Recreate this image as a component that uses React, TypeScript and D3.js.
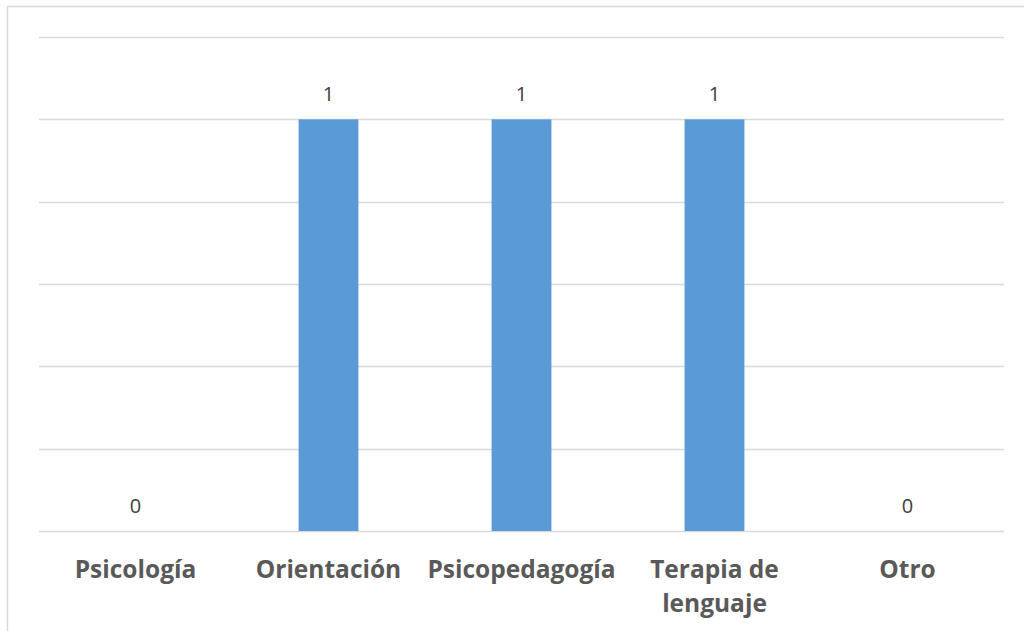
import React from "react";
import * as d3 from "d3";

const categories: string[][] = [
  ["Psicología"],
  ["Orientación"],
  ["Psicopedagogía"],
  ["Terapia de", "lenguaje"],
  ["Otro"],
];
const values: number[] = [0, 1, 1, 1, 0];
const gridTicks: number[] = [0, 0.2, 0.4, 0.6, 0.8, 1, 1.2];

const W = 1024;
const H = 631;

export default function App() {
  const x = d3
    .scaleBand<number>()
    .domain(values.map((_, i) => i))
    .range([39, 1004])
    .paddingInner(0.69)
    .paddingOuter(0.345);
  const y = d3.scaleLinear().domain([0, 1.2]).range([531, 37]);
  const font = "'Open Sans', 'Liberation Sans', sans-serif";
  return (
    <svg
      width={W}
      height={H}
      style={{ position: "absolute", left: 0, top: 0, background: "#fff" }}
    >
      <rect x={7.5} y={6.5} width={1040} height={700} fill="#fff" stroke="#d9d9d9" strokeWidth={1.5} />
      {gridTicks.map((t) => (
        <line
          key={t}
          x1={39}
          x2={1004}
          y1={Math.round(y(t)) + 0.5}
          y2={Math.round(y(t)) + 0.5}
          stroke="#d9d9d9"
          strokeWidth={1.5}
        />
      ))}
      {values.map((v, i) => (
        <rect
          key={i}
          x={x(i)}
          y={y(v)}
          width={x.bandwidth()}
          height={y(0) - y(v)}
          fill="#5b9bd5"
        />
      ))}
      {values.map((v, i) => (
        <text
          key={"l" + i}
          x={(x(i) as number) + x.bandwidth() / 2}
          y={y(v) - 18}
          textAnchor="middle"
          fontFamily={font}
          fontSize={20}
          fill="#404040"
        >
          {v}
        </text>
      ))}
      {categories.map((lines, i) => (
        <text
          key={"c" + i}
          x={(x(i) as number) + x.bandwidth() / 2}
          y={578}
          textAnchor="middle"
          fontFamily={font}
          fontWeight={700}
          fontSize={24.5}
          fill="#595959"
        >
          {lines.map((ln, j) => (
            <tspan key={j} x={(x(i) as number) + x.bandwidth() / 2} dy={j === 0 ? 0 : 34}>
              {ln}
            </tspan>
          ))}
        </text>
      ))}
    </svg>
  );
}
